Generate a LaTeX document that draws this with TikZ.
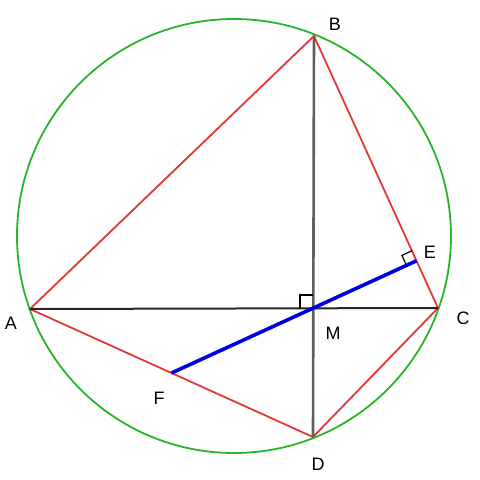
\documentclass[tikz,border=0pt]{standalone}
\usepackage{fontspec}
\setmainfont{Liberation Sans}
\usetikzlibrary{calc}

\definecolor{circgreen}{RGB}{40,180,40}
\definecolor{quadred}{RGB}{225,55,55}
\definecolor{lineblue}{RGB}{0,0,225}
\definecolor{diaggray}{RGB}{95,95,95}

\begin{document}
\begin{tikzpicture}[x=1pt, y=-1pt]
		% Define styles
		\tikzstyle{pt label}=[font=\fontsize{18}{21}\selectfont, inner sep=0pt]
		\tikzstyle{side}=[draw,quadred,line width=1.8pt]
		\tikzstyle{right mark}=[draw,black,line width=1.2pt]
		
		\useasboundingbox (0,0) rectangle (480,480);
		
		% Points
		\coordinate (O) at (234,236);
		\coordinate (A) at (30,309);
		\coordinate (B) at (314,36);
		\coordinate (C) at (438,308);
		\coordinate (D) at (313,437);
		\coordinate (M) at (313,308);
		\coordinate (E) at ($(B)!(M)!(C)$);
		\coordinate (F) at ($(A)!0.5!(D)$);
		
		% Circumcircle
		\draw[circgreen, line width=1.8pt] (O) circle (217);
		
		% Cyclic quadrilateral
		\draw[side] (A) -- (B) -- (C) -- (D) -- cycle;
		
		% Diagonals
		\draw[black!85, line width=2pt] (A) -- (C);
		\draw[diaggray, line width=2.6pt] (B) -- (D);
		
		% Line through M perpendicular to BC
		\draw[lineblue, line width=3.6pt] (F) -- (E);
		
		% Right angle marks
		\draw[right mark] ($(M)+(-13,0)$) -- ($(M)+(-13,-13)$) -- ($(M)+(0,-13)$);
		\coordinate (eb) at ($(E)!11pt!(B)$);
		\coordinate (em) at ($(E)!11pt!(M)$);
		\draw[right mark] (eb) -- ($(eb)+(em)-(E)$) -- (em);
		
		% Labels
		\node[pt label] (lA) at (11,323) {A};
		\node[pt label] (lB) at (335,24) {B};
		\node[pt label] (lC) at (463,318) {C};
		\node[pt label] (lD) at (318,464) {D};
		\node[pt label] (lE) at (430,252) {E};
		\node[pt label] (lF) at (159,398) {F};
		\node[pt label] (lM) at (333,333) {M};
		
	\end{tikzpicture}
\end{document}
